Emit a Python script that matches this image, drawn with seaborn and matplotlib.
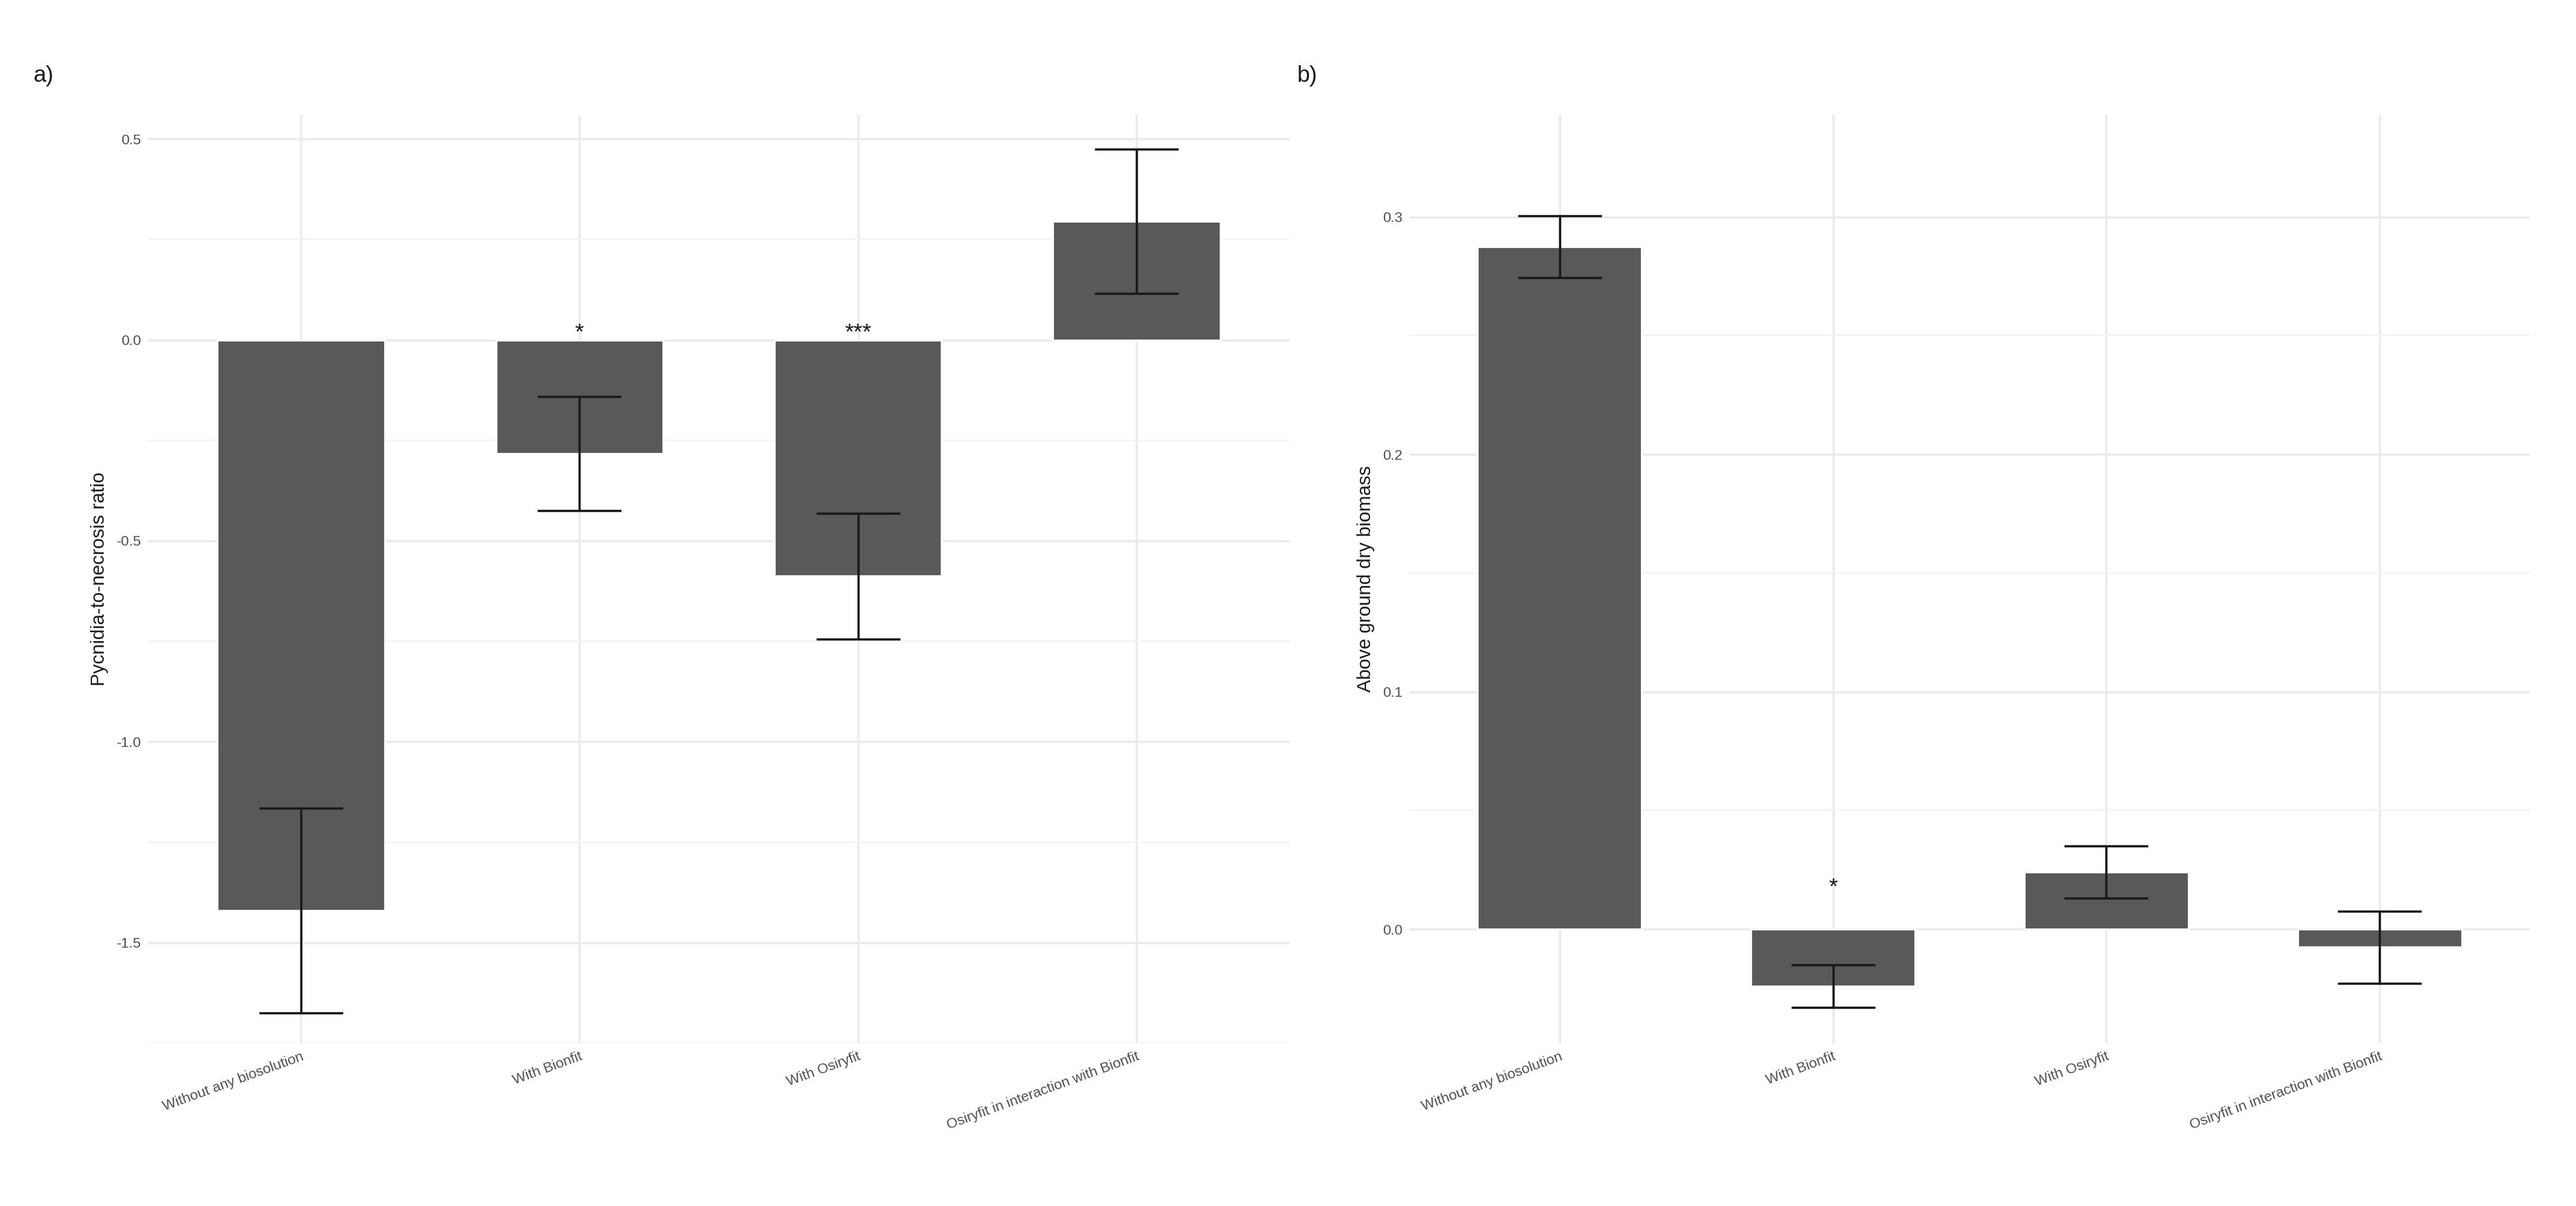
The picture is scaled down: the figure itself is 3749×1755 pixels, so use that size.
import matplotlib
matplotlib.use("Agg")
import matplotlib.pyplot as plt
import numpy as np
import pandas as pd
import seaborn as sns
from matplotlib.ticker import MultipleLocator

treatments = ["Without any biosolution", "With Bionfit", "With Osiryfit",
              "Osiryfit in interaction with Bionfit"]

ratio_mean = [-1.42, -0.283, -0.588, 0.295]
ratio_err = [0.255, 0.142, 0.156, 0.18]
ratio_sig = ["", "*", "***", ""]

biomass_mean = [0.2875, -0.024, 0.024, -0.0076]
biomass_err = [0.0131, 0.009, 0.011, 0.0152]
biomass_sig = ["", "*", "", ""]

sns.set_theme(style="whitegrid")
plt.rcParams["font.family"] = ["Liberation Sans", "DejaVu Sans"]

fig = plt.figure(figsize=(18.745, 8.775), dpi=200)
ax_a = fig.add_axes([215 / 3749, 1 - 1518 / 1755, 1662 / 3749, 1351 / 1755])
ax_b = fig.add_axes([2051 / 3749, 1 - 1518 / 1755, 1631 / 3749, 1351 / 1755])


def panel(ax, means, errs, sig, ylabel, ylim, major, sig_y, letter):
    df = pd.DataFrame({"treatment": treatments, "value": means})
    sns.barplot(data=df, x="treatment", y="value", color="#595959",
                saturation=1, width=0.6, errorbar=None, ax=ax)
    x = np.arange(len(treatments))
    ax.errorbar(x, means, yerr=errs, fmt="none", ecolor="#1a1a1a",
                elinewidth=1.2, capsize=22, capthick=1.2)
    for xi, s in zip(x, sig):
        if s:
            ax.text(xi, sig_y, s, ha="center", va="bottom", fontsize=12,
                    color="#1a1a1a")
    ax.set_ylim(*ylim)
    ax.set_xlim(-0.55, 3.55)
    ax.yaxis.set_major_locator(MultipleLocator(major))
    ax.yaxis.set_minor_locator(MultipleLocator(major / 2))
    ax.grid(which="major", color="#ebebeb", linewidth=1.2)
    ax.grid(which="minor", axis="y", color="#f4f4f4", linewidth=0.8)
    for sp in ax.spines.values():
        sp.set_visible(False)
    ax.set_xlabel("")
    ax.set_ylabel(ylabel, fontsize=10, color="#1a1a1a")
    ax.tick_params(axis="both", labelsize=7.5, colors="#4d4d4d", length=0)
    ax.set_xticks(x)
    ax.set_xticklabels(treatments, rotation=20, ha="right",
                       rotation_mode="anchor")
    ax.set_axisbelow(True)
    ax.text(-0.1, 1.03, letter, transform=ax.transAxes, fontsize=12,
            color="#1a1a1a", va="bottom")


panel(ax_a, ratio_mean, ratio_err, ratio_sig, "Pycnidia-to-necrosis ratio",
      (-1.75, 0.56), 0.5, -0.01, "a)")
panel(ax_b, biomass_mean, biomass_err, biomass_sig, "Above ground dry biomass",
      (-0.048, 0.343), 0.1, 0.013, "b)")
ax_a.yaxis.set_major_formatter(matplotlib.ticker.FormatStrFormatter("%.1f"))
ax_b.yaxis.set_major_formatter(matplotlib.ticker.FormatStrFormatter("%.1f"))

fig.savefig("out.png", dpi=200, facecolor="white")
